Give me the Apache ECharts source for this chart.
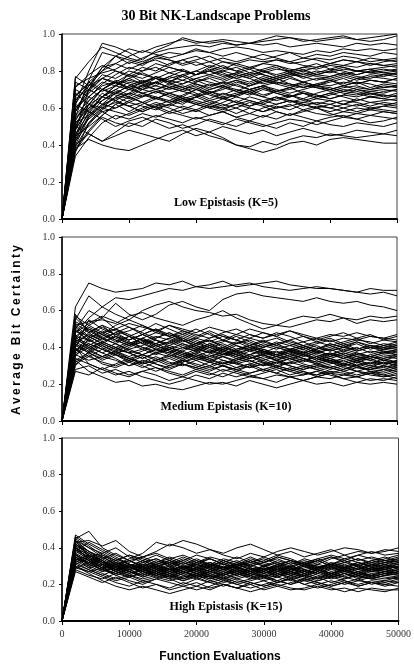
<!DOCTYPE html>
<html>
<head>
<meta charset="utf-8">
<title>30 Bit NK-Landscape Problems</title>
<script src="https://cdn.jsdelivr.net/npm/echarts@6/dist/echarts.min.js"></script>
<style>
  html, body { margin: 0; padding: 0; background: #fff; }
  #chart { width: 414px; height: 669px; }
</style>
</head>
<body>
<div id="chart"></div>
<script>
// function evaluations at which bit certainty was sampled
var evals = [0, 2000, 4000, 6000, 8000, 10000, 12000, 14000, 16000, 18000, 20000, 22000, 24000,
  26000, 28000, 30000, 32000, 34000, 36000, 38000, 40000, 42000, 44000, 46000, 48000, 50000];

// low epistasis, K=5
var lowRuns = [
  [0,.77,.72,.80,.88,.92,.90,.93,.95,.97,.95,.96,.97,.96,.95,.96,.97,.98,.97,.96,.97,.98,.97,.98,.99,1.0],
  [0,.62,.80,.95,.93,.90,.86,.91,.94,.98,.96,.95,.96,.94,.95,.97,.99,.98,.96,.97,.98,.99,.97,.96,.97,.99],
  [0,.55,.75,.90,.88,.84,.87,.90,.92,.93,.94,.93,.95,.94,.95,.94,.95,.93,.94,.95,.94,.93,.95,.94,.95,.94],
  [0,.48,.70,.82,.88,.86,.84,.88,.90,.89,.91,.90,.92,.93,.92,.90,.91,.90,.89,.91,.90,.92,.91,.92,.91,.92],
  [0,.72,.76,.79,.81,.85,.83,.87,.86,.84,.86,.88,.85,.84,.86,.85,.86,.84,.85,.87,.86,.88,.87,.85,.86,.85],
  [0,.45,.62,.70,.74,.78,.82,.80,.84,.86,.83,.85,.82,.80,.82,.84,.83,.81,.80,.82,.84,.83,.85,.84,.83,.84],
  [0,.65,.70,.78,.76,.80,.78,.76,.74,.78,.80,.83,.81,.84,.82,.80,.78,.80,.82,.81,.83,.82,.80,.81,.82,.83],
  [0,.40,.55,.62,.68,.72,.75,.73,.77,.80,.78,.82,.85,.83,.81,.84,.86,.85,.83,.82,.84,.86,.85,.83,.85,.86],
  [0,.58,.68,.74,.72,.70,.74,.77,.75,.73,.76,.78,.80,.78,.76,.79,.81,.80,.78,.80,.79,.81,.80,.79,.80,.81],
  [0,.50,.64,.70,.75,.73,.70,.72,.76,.78,.75,.72,.74,.77,.79,.78,.76,.78,.80,.78,.77,.79,.78,.80,.79,.78],
  [0,.70,.66,.72,.74,.70,.72,.74,.71,.73,.76,.74,.72,.75,.73,.76,.74,.72,.74,.76,.75,.73,.76,.75,.74,.76],
  [0,.44,.58,.66,.70,.74,.72,.70,.72,.70,.73,.71,.74,.72,.70,.72,.74,.73,.71,.73,.72,.74,.73,.75,.74,.73],
  [0,.52,.60,.64,.68,.66,.70,.68,.71,.69,.67,.70,.72,.70,.68,.71,.69,.70,.72,.71,.69,.71,.72,.70,.71,.72],
  [0,.36,.52,.60,.66,.70,.68,.65,.68,.70,.72,.69,.66,.68,.70,.67,.69,.71,.68,.66,.68,.70,.69,.67,.69,.70],
  [0,.60,.66,.62,.65,.68,.66,.69,.67,.64,.66,.68,.65,.67,.69,.66,.64,.66,.68,.67,.65,.67,.66,.68,.67,.66],
  [0,.42,.56,.62,.60,.64,.67,.65,.63,.66,.64,.62,.65,.63,.66,.64,.62,.64,.63,.65,.64,.62,.64,.66,.65,.64],
  [0,.38,.48,.56,.62,.66,.63,.60,.62,.65,.63,.61,.60,.62,.64,.62,.60,.61,.63,.62,.60,.62,.61,.63,.62,.61],
  [0,.55,.62,.58,.60,.63,.61,.59,.62,.60,.58,.61,.59,.62,.60,.58,.60,.62,.59,.61,.60,.58,.60,.59,.61,.60],
  [0,.46,.54,.60,.58,.56,.59,.62,.60,.57,.59,.56,.58,.60,.57,.55,.58,.56,.59,.57,.56,.58,.57,.59,.58,.57],
  [0,.34,.44,.52,.56,.54,.57,.55,.58,.56,.54,.56,.58,.55,.53,.56,.54,.57,.55,.53,.55,.56,.54,.56,.55,.54],
  [0,.40,.46,.42,.47,.52,.50,.54,.52,.49,.51,.54,.52,.50,.53,.51,.49,.52,.50,.53,.51,.50,.52,.51,.50,.52],
  [0,.38,.43,.40,.38,.37,.40,.43,.46,.48,.45,.47,.50,.48,.46,.48,.45,.47,.49,.47,.45,.46,.48,.47,.46,.48],
  [0,.50,.46,.42,.45,.48,.46,.44,.42,.46,.49,.47,.44,.40,.38,.36,.38,.41,.42,.40,.43,.44,.43,.42,.41,.41],
  [0,.62,.58,.54,.50,.53,.55,.52,.49,.51,.48,.45,.43,.40,.39,.42,.40,.43,.45,.44,.46,.45,.44,.45,.46,.45],
  [0,.74,.70,.66,.72,.75,.73,.70,.68,.65,.67,.64,.62,.60,.63,.61,.58,.56,.58,.60,.57,.55,.57,.56,.58,.57],
  [0,.56,.64,.70,.68,.72,.70,.74,.77,.75,.73,.70,.72,.69,.67,.70,.68,.66,.68,.65,.67,.69,.68,.66,.67,.66],
  [0,.64,.72,.76,.80,.78,.74,.76,.79,.77,.74,.76,.73,.75,.72,.74,.76,.73,.71,.73,.75,.72,.74,.73,.71,.72],
  [0,.48,.60,.68,.64,.68,.72,.76,.74,.77,.80,.78,.76,.79,.77,.80,.82,.79,.77,.79,.81,.80,.78,.80,.81,.80],
  [0,.53,.66,.73,.78,.82,.80,.84,.82,.80,.78,.80,.77,.79,.81,.78,.76,.78,.77,.75,.77,.79,.77,.76,.78,.77],
  [0,.76,.85,.93,.90,.87,.85,.88,.86,.83,.85,.82,.80,.82,.79,.81,.83,.80,.82,.84,.81,.83,.82,.84,.83,.82],
  [0,.45,.50,.56,.62,.58,.62,.65,.68,.66,.70,.73,.71,.69,.72,.75,.73,.76,.74,.72,.75,.77,.75,.77,.76,.75],
  [0,.58,.72,.82,.84,.88,.91,.89,.87,.89,.92,.90,.88,.90,.88,.86,.88,.90,.87,.89,.88,.90,.89,.88,.90,.89],
  [0,.42,.52,.58,.54,.57,.60,.63,.61,.64,.62,.60,.63,.66,.64,.62,.65,.67,.64,.66,.68,.66,.64,.66,.65,.67],
  [0,.68,.62,.66,.64,.61,.63,.60,.57,.59,.62,.60,.58,.55,.57,.60,.62,.64,.61,.63,.62,.64,.63,.61,.63,.62],
  [0,.37,.47,.55,.52,.50,.53,.56,.54,.52,.55,.53,.51,.54,.52,.50,.52,.54,.53,.51,.53,.55,.54,.52,.53,.55],
  [0,.52,.56,.64,.69,.66,.63,.66,.64,.67,.70,.67,.65,.67,.70,.72,.70,.68,.70,.72,.71,.69,.71,.70,.72,.71],
  [0,.60,.69,.76,.74,.71,.74,.72,.70,.72,.70,.68,.71,.74,.72,.75,.73,.71,.73,.71,.70,.72,.70,.69,.70,.69],
  [0,.46,.57,.66,.72,.78,.76,.79,.82,.80,.78,.80,.78,.76,.74,.77,.75,.77,.79,.77,.76,.78,.80,.79,.78,.79],
  [0,.66,.74,.70,.67,.65,.68,.66,.63,.65,.62,.64,.66,.63,.61,.64,.66,.64,.62,.60,.62,.60,.58,.60,.59,.58],
  [0,.54,.62,.60,.63,.61,.58,.61,.64,.62,.66,.69,.67,.70,.68,.66,.69,.67,.65,.68,.70,.68,.67,.69,.68,.70],
  [0,.58,.70,.76,.73,.76,.79,.76,.73,.75,.78,.81,.79,.76,.78,.75,.77,.79,.76,.78,.80,.78,.76,.78,.77,.79],
  [0,.50,.62,.70,.74,.71,.68,.70,.73,.71,.68,.65,.68,.66,.69,.71,.68,.66,.69,.67,.65,.67,.70,.68,.66,.68],
  [0,.62,.74,.80,.84,.81,.84,.86,.83,.86,.88,.85,.87,.85,.87,.89,.87,.85,.87,.86,.84,.86,.85,.87,.86,.87],
  [0,.43,.55,.61,.66,.63,.66,.69,.66,.63,.66,.63,.61,.64,.61,.63,.66,.63,.65,.62,.64,.62,.65,.63,.64,.65],
  [0,.67,.73,.69,.72,.76,.73,.77,.74,.71,.74,.77,.75,.78,.76,.73,.75,.77,.74,.72,.74,.76,.73,.75,.74,.76],
  [0,.39,.51,.59,.64,.61,.58,.61,.58,.61,.59,.62,.60,.57,.60,.58,.61,.59,.62,.60,.58,.60,.62,.60,.61,.63],
  [0,.71,.78,.83,.80,.77,.80,.82,.79,.81,.78,.80,.83,.80,.78,.80,.77,.79,.81,.78,.80,.82,.80,.81,.79,.80],
  [0,.49,.59,.66,.70,.67,.71,.74,.71,.69,.71,.68,.70,.73,.70,.72,.69,.71,.74,.72,.70,.72,.74,.71,.73,.72]
];

// medium epistasis, K=10
var mediumRuns = [
  [0,.62,.75,.72,.70,.71,.72,.75,.74,.76,.73,.72,.73,.74,.75,.73,.72,.71,.72,.73,.72,.71,.70,.72,.71,.71],
  [0,.55,.68,.62,.67,.66,.68,.70,.72,.71,.73,.74,.76,.73,.74,.75,.76,.74,.73,.72,.72,.71,.70,.69,.70,.68],
  [0,.50,.60,.56,.64,.58,.55,.58,.63,.65,.62,.60,.66,.69,.70,.68,.67,.66,.65,.67,.65,.64,.65,.63,.62,.60],
  [0,.48,.56,.62,.58,.55,.60,.63,.65,.62,.60,.59,.57,.58,.55,.53,.52,.55,.57,.56,.58,.56,.55,.57,.56,.57],
  [0,.52,.54,.55,.53,.57,.59,.56,.54,.52,.55,.57,.60,.56,.53,.50,.52,.51,.53,.55,.54,.56,.53,.55,.54,.55],
  [0,.45,.52,.48,.50,.53,.51,.49,.52,.50,.48,.51,.49,.47,.50,.48,.46,.49,.47,.45,.47,.46,.48,.46,.45,.47],
  [0,.40,.55,.50,.47,.49,.52,.48,.46,.49,.47,.45,.48,.50,.47,.45,.47,.49,.46,.44,.46,.48,.45,.47,.44,.46],
  [0,.58,.48,.52,.46,.44,.47,.50,.46,.43,.45,.48,.44,.42,.45,.43,.41,.44,.46,.43,.41,.43,.45,.42,.44,.43],
  [0,.50,.43,.46,.50,.47,.44,.42,.45,.47,.44,.41,.43,.46,.43,.40,.42,.44,.41,.39,.42,.40,.43,.41,.40,.42],
  [0,.35,.45,.48,.44,.41,.43,.46,.44,.41,.39,.42,.44,.41,.38,.40,.43,.41,.39,.41,.38,.40,.42,.39,.41,.40],
  [0,.47,.40,.43,.46,.42,.39,.42,.45,.42,.40,.37,.40,.43,.40,.38,.36,.39,.41,.38,.36,.38,.40,.37,.39,.38],
  [0,.44,.50,.45,.42,.39,.41,.44,.40,.38,.41,.39,.36,.38,.41,.38,.36,.38,.35,.37,.39,.36,.34,.36,.38,.36],
  [0,.38,.42,.39,.36,.40,.43,.39,.37,.40,.38,.35,.37,.34,.36,.39,.36,.34,.36,.33,.35,.37,.35,.33,.35,.34],
  [0,.42,.37,.41,.38,.35,.38,.41,.38,.35,.37,.34,.36,.38,.35,.33,.35,.37,.34,.32,.34,.36,.33,.31,.33,.32],
  [0,.30,.38,.42,.39,.37,.34,.37,.35,.38,.35,.33,.35,.32,.34,.36,.33,.31,.33,.35,.32,.30,.32,.34,.31,.33],
  [0,.46,.44,.40,.36,.34,.36,.33,.35,.32,.34,.36,.33,.31,.33,.30,.32,.34,.31,.29,.31,.33,.30,.28,.30,.29],
  [0,.36,.33,.35,.38,.34,.31,.33,.30,.32,.35,.32,.30,.32,.29,.31,.33,.30,.28,.30,.32,.29,.27,.29,.28,.30],
  [0,.32,.36,.31,.29,.32,.35,.31,.29,.31,.28,.30,.27,.29,.31,.28,.26,.29,.27,.25,.28,.30,.27,.26,.28,.27],
  [0,.28,.30,.26,.28,.25,.27,.29,.26,.24,.27,.25,.28,.26,.24,.26,.28,.25,.27,.24,.26,.25,.27,.25,.24,.26],
  [0,.33,.27,.24,.21,.22,.19,.20,.18,.17,.19,.21,.20,.22,.24,.23,.25,.24,.22,.24,.23,.25,.24,.22,.23,.22],
  [0,.40,.31,.28,.25,.27,.24,.22,.20,.22,.25,.23,.26,.24,.26,.28,.26,.24,.25,.27,.25,.23,.24,.26,.24,.25],
  [0,.54,.50,.47,.52,.55,.52,.49,.46,.48,.45,.43,.46,.44,.42,.40,.42,.39,.37,.39,.41,.38,.36,.38,.37,.36],
  [0,.49,.46,.51,.47,.44,.47,.44,.41,.39,.42,.44,.41,.38,.36,.38,.35,.37,.39,.36,.34,.32,.34,.33,.31,.32],
  [0,.43,.47,.44,.48,.51,.48,.45,.48,.45,.42,.45,.47,.44,.41,.43,.45,.42,.40,.42,.44,.41,.43,.40,.42,.41],
  [0,.37,.41,.45,.42,.46,.44,.41,.43,.40,.38,.41,.39,.42,.44,.41,.39,.41,.43,.40,.38,.40,.39,.41,.40,.39],
  [0,.51,.45,.49,.45,.42,.45,.48,.52,.49,.46,.49,.46,.44,.47,.45,.48,.46,.43,.45,.43,.45,.44,.46,.45,.44],
  [0,.46,.39,.35,.38,.41,.45,.42,.39,.36,.33,.35,.38,.35,.33,.30,.32,.30,.28,.30,.29,.27,.29,.28,.30,.28],
  [0,.39,.35,.32,.30,.33,.30,.27,.30,.33,.36,.33,.31,.34,.32,.35,.33,.36,.34,.32,.34,.31,.33,.35,.33,.31],
  [0,.57,.52,.56,.50,.46,.42,.45,.48,.44,.40,.37,.39,.36,.34,.36,.38,.35,.33,.31,.33,.30,.32,.30,.29,.31],
  [0,.41,.48,.52,.49,.46,.49,.53,.50,.47,.50,.47,.44,.47,.45,.48,.46,.43,.41,.43,.45,.42,.44,.43,.41,.43],
  [0,.34,.31,.28,.31,.34,.31,.33,.36,.33,.30,.28,.30,.27,.30,.32,.29,.27,.29,.31,.29,.31,.29,.28,.27,.29],
  [0,.44,.41,.37,.34,.30,.32,.29,.27,.25,.28,.26,.24,.27,.25,.23,.21,.24,.22,.24,.26,.23,.21,.23,.22,.24],
  [0,.53,.48,.43,.40,.37,.39,.36,.39,.42,.39,.37,.35,.37,.34,.36,.33,.35,.37,.34,.32,.34,.32,.30,.32,.30],
  [0,.38,.44,.41,.37,.39,.36,.34,.31,.33,.31,.29,.32,.29,.31,.33,.30,.28,.30,.28,.26,.28,.30,.27,.25,.27],
  [0,.48,.53,.57,.54,.51,.47,.50,.47,.44,.41,.44,.40,.38,.40,.38,.36,.38,.40,.37,.35,.37,.35,.34,.36,.35],
  [0,.31,.35,.39,.36,.33,.36,.39,.37,.34,.37,.40,.37,.35,.38,.36,.34,.36,.38,.35,.37,.34,.36,.35,.37,.38],
  [0,.42,.38,.35,.33,.30,.33,.31,.28,.31,.29,.32,.30,.28,.26,.28,.30,.28,.26,.25,.27,.26,.24,.26,.25,.23],
  [0,.36,.40,.37,.40,.43,.40,.38,.40,.37,.35,.38,.36,.39,.41,.39,.37,.39,.37,.39,.42,.40,.38,.40,.39,.41],
  [0,.27,.25,.29,.26,.24,.27,.25,.22,.24,.22,.20,.21,.19,.22,.20,.18,.20,.22,.20,.21,.19,.21,.20,.21,.20],
  [0,.45,.42,.39,.42,.38,.36,.39,.36,.34,.36,.34,.31,.33,.35,.32,.30,.32,.34,.31,.33,.31,.30,.32,.30,.33],
  [0,.46,.51,.47,.44,.41,.44,.40,.43,.46,.43,.40,.38,.41,.39,.37,.40,.38,.36,.38,.36,.39,.37,.35,.37,.39],
  [0,.52,.46,.42,.39,.42,.45,.41,.38,.35,.38,.41,.38,.36,.39,.37,.35,.33,.36,.34,.37,.35,.33,.35,.34,.36],
  [0,.43,.39,.43,.40,.37,.34,.37,.40,.37,.34,.32,.35,.33,.36,.34,.31,.34,.32,.35,.33,.31,.33,.31,.34,.32],
  [0,.38,.46,.42,.46,.43,.40,.37,.39,.36,.39,.42,.39,.36,.34,.37,.35,.38,.36,.33,.36,.34,.37,.35,.33,.35],
  [0,.49,.44,.47,.43,.46,.42,.39,.41,.44,.41,.38,.40,.37,.39,.42,.40,.38,.40,.37,.39,.41,.38,.40,.38,.37],
  [0,.33,.37,.34,.37,.34,.32,.35,.32,.30,.33,.30,.33,.31,.29,.31,.29,.32,.30,.28,.30,.28,.31,.29,.32,.30],
  [0,.56,.49,.45,.48,.44,.47,.44,.42,.45,.42,.40,.42,.39,.41,.44,.41,.39,.41,.38,.40,.42,.39,.41,.39,.40],
  [0,.41,.37,.33,.36,.32,.29,.32,.34,.31,.29,.27,.30,.28,.30,.27,.29,.27,.25,.27,.29,.27,.25,.27,.26,.28]
];

// high epistasis, K=15
var highRuns = [
  [0,.47,.42,.38,.34,.31,.29,.31,.28,.30,.27,.29,.31,.28,.26,.28,.30,.27,.29,.31,.29,.27,.29,.31,.30,.32],
  [0,.45,.49,.40,.36,.33,.35,.32,.34,.31,.33,.30,.32,.35,.32,.30,.33,.31,.34,.32,.35,.33,.36,.34,.33,.35],
  [0,.43,.44,.41,.44,.38,.35,.37,.34,.36,.33,.31,.34,.32,.30,.32,.35,.33,.31,.33,.30,.32,.34,.31,.33,.32],
  [0,.42,.38,.35,.31,.34,.37,.43,.41,.44,.42,.39,.37,.40,.42,.39,.36,.38,.35,.37,.39,.36,.38,.37,.39,.38],
  [0,.40,.36,.32,.29,.32,.35,.38,.42,.40,.37,.39,.36,.34,.37,.35,.38,.40,.38,.36,.38,.40,.39,.37,.38,.40],
  [0,.38,.34,.30,.33,.36,.33,.30,.32,.29,.31,.34,.31,.29,.27,.30,.32,.29,.27,.29,.31,.28,.30,.28,.29,.30],
  [0,.36,.31,.28,.26,.29,.27,.30,.28,.26,.29,.27,.25,.28,.26,.24,.27,.29,.26,.28,.26,.24,.27,.25,.27,.26],
  [0,.34,.30,.27,.29,.26,.28,.25,.27,.29,.26,.24,.26,.23,.25,.27,.24,.26,.28,.25,.23,.25,.27,.24,.26,.25],
  [0,.33,.29,.31,.27,.24,.26,.29,.26,.24,.26,.28,.25,.27,.29,.26,.28,.25,.23,.26,.24,.26,.23,.25,.24,.23],
  [0,.31,.28,.25,.22,.24,.21,.23,.25,.22,.24,.21,.23,.20,.22,.24,.21,.23,.20,.22,.24,.22,.20,.22,.21,.23],
  [0,.29,.27,.24,.21,.19,.22,.20,.18,.21,.19,.22,.20,.18,.21,.19,.21,.23,.20,.18,.20,.22,.19,.21,.20,.19],
  [0,.30,.26,.22,.19,.17,.19,.17,.15,.17,.19,.17,.20,.18,.16,.18,.20,.18,.17,.19,.17,.18,.16,.18,.17,.17],
  [0,.37,.33,.36,.32,.29,.32,.34,.31,.33,.30,.32,.29,.31,.33,.30,.28,.30,.32,.29,.31,.33,.30,.32,.31,.29],
  [0,.44,.40,.37,.40,.35,.32,.34,.31,.28,.30,.27,.29,.26,.28,.25,.27,.29,.26,.24,.26,.28,.25,.27,.26,.28],
  [0,.39,.35,.31,.27,.30,.27,.24,.26,.23,.25,.22,.24,.21,.23,.25,.22,.20,.22,.24,.21,.23,.25,.23,.22,.24],
  [0,.35,.31,.28,.31,.27,.30,.33,.30,.27,.25,.27,.30,.27,.29,.26,.28,.30,.27,.29,.31,.29,.27,.29,.28,.30],
  [0,.41,.37,.33,.30,.33,.30,.27,.29,.26,.28,.31,.28,.25,.27,.30,.27,.25,.27,.29,.26,.28,.30,.27,.29,.27],
  [0,.32,.28,.25,.28,.31,.28,.26,.29,.32,.29,.26,.28,.31,.28,.26,.29,.27,.30,.28,.26,.28,.26,.29,.27,.28],
  [0,.46,.41,.36,.33,.30,.27,.29,.32,.29,.32,.35,.33,.30,.33,.31,.29,.32,.30,.33,.35,.32,.34,.32,.34,.36],
  [0,.28,.25,.23,.26,.24,.27,.25,.23,.20,.23,.21,.19,.22,.20,.22,.19,.21,.23,.21,.19,.21,.23,.20,.22,.21],
  [0,.34,.32,.29,.25,.22,.20,.23,.21,.19,.17,.19,.22,.20,.18,.20,.22,.20,.23,.21,.19,.21,.19,.21,.20,.22],
  [0,.40,.34,.29,.26,.28,.25,.28,.26,.29,.27,.30,.28,.31,.29,.27,.30,.28,.31,.29,.32,.30,.28,.31,.29,.31],
  [0,.38,.43,.39,.35,.31,.28,.30,.27,.25,.27,.24,.26,.28,.25,.23,.25,.27,.25,.27,.24,.26,.24,.23,.25,.24],
  [0,.36,.32,.35,.31,.33,.30,.32,.35,.32,.29,.31,.28,.30,.32,.35,.32,.30,.32,.34,.31,.29,.31,.33,.32,.34],
  [0,.27,.24,.21,.24,.21,.18,.20,.17,.19,.21,.18,.20,.18,.20,.17,.19,.17,.18,.20,.18,.16,.18,.17,.16,.18],
  [0,.42,.36,.31,.28,.26,.29,.26,.24,.27,.24,.26,.23,.25,.27,.24,.26,.23,.25,.23,.26,.24,.22,.24,.26,.25],
  [0,.31,.34,.30,.27,.30,.33,.36,.33,.31,.34,.31,.29,.32,.35,.32,.30,.33,.31,.29,.31,.34,.32,.30,.32,.31],
  [0,.44,.38,.33,.29,.27,.24,.26,.23,.26,.28,.25,.23,.26,.24,.22,.24,.27,.24,.22,.24,.26,.24,.26,.25,.27],
  [0,.33,.36,.32,.30,.27,.25,.27,.30,.27,.25,.23,.25,.27,.24,.26,.29,.26,.24,.27,.25,.28,.26,.28,.27,.26],
  [0,.30,.27,.29,.32,.29,.31,.28,.30,.33,.36,.34,.31,.33,.30,.32,.34,.31,.33,.31,.34,.36,.33,.35,.33,.34],
  [0,.39,.35,.37,.33,.36,.34,.31,.33,.30,.28,.30,.33,.31,.34,.32,.35,.33,.31,.34,.36,.34,.36,.38,.36,.37],
  [0,.35,.29,.26,.23,.25,.22,.24,.22,.24,.26,.24,.21,.23,.21,.19,.21,.24,.22,.20,.22,.20,.22,.21,.19,.21],
  [0,.41,.33,.27,.30,.28,.31,.29,.26,.28,.31,.29,.27,.25,.28,.30,.28,.26,.28,.30,.27,.29,.31,.28,.30,.29],
  [0,.37,.30,.33,.28,.25,.28,.31,.28,.30,.28,.25,.27,.30,.27,.29,.26,.28,.31,.28,.30,.27,.29,.27,.30,.31],
  [0,.43,.38,.34,.30,.27,.25,.28,.31,.34,.31,.28,.30,.27,.25,.28,.25,.27,.25,.28,.26,.29,.27,.29,.31,.28],
  [0,.32,.35,.31,.34,.31,.28,.26,.24,.27,.29,.32,.29,.26,.29,.27,.31,.29,.32,.30,.28,.30,.32,.29,.31,.33],
  [0,.39,.33,.29,.32,.30,.26,.28,.25,.23,.26,.23,.26,.29,.27,.24,.22,.25,.28,.26,.29,.27,.25,.28,.26,.27],
  [0,.45,.40,.35,.31,.29,.32,.29,.27,.30,.32,.30,.33,.30,.32,.34,.31,.33,.30,.28,.31,.29,.32,.30,.32,.33],
  [0,.35,.31,.34,.37,.33,.29,.31,.33,.29,.31,.29,.26,.29,.31,.28,.31,.28,.26,.28,.25,.27,.29,.27,.28,.26],
  [0,.40,.36,.33,.28,.31,.29,.26,.29,.27,.24,.27,.25,.28,.30,.28,.25,.28,.30,.27,.30,.28,.26,.25,.27,.29],
  [0,.29,.32,.28,.25,.27,.24,.27,.24,.22,.25,.27,.24,.26,.23,.25,.24,.22,.25,.23,.25,.23,.26,.24,.23,.24],
  [0,.44,.35,.31,.28,.30,.33,.30,.32,.35,.32,.34,.31,.29,.31,.33,.36,.34,.31,.33,.30,.32,.30,.33,.35,.32],
  [0,.36,.33,.29,.31,.28,.30,.27,.25,.28,.26,.28,.32,.29,.27,.29,.27,.30,.28,.26,.29,.31,.28,.30,.28,.30],
  [0,.42,.37,.32,.27,.25,.23,.25,.28,.25,.23,.25,.22,.24,.26,.29,.26,.24,.26,.28,.25,.27,.25,.23,.25,.26]
];

var panelNames = ["Low Epistasis (K=5)", "Medium Epistasis (K=10)", "High Epistasis (K=15)"];

var serif = "'Liberation Serif', 'Times New Roman', serif";
var sans = "'Liberation Sans', Arial, sans-serif";

var gridBoxes = [
  { left: 62, top: 34, width: 335, height: 185 },
  { left: 62, top: 237, width: 335, height: 184 },
  { left: 62, top: 438, width: 337, height: 183 }
];

function makeSeries(runs, idx) {
  return runs.map(function (run) {
    return {
      type: "line",
      xAxisIndex: idx,
      yAxisIndex: idx,
      symbol: "none",
      silent: true,
      lineStyle: { color: "#000", width: 1 },
      data: run.map(function (v, i) {
        return [evals[i], v];
      })
    };
  });
}

var grid = [], xAxis = [], yAxis = [];
gridBoxes.forEach(function (b, i) {
  grid.push({
    left: b.left, top: b.top, width: b.width, height: b.height,
    show: true, borderColor: "#444", borderWidth: 1, backgroundColor: "#fff"
  });
  xAxis.push({
    type: "value", gridIndex: i, min: 0, max: 50000, interval: 10000,
    axisLine: { onZero: false, lineStyle: { color: "#000", width: 2 } },
    axisTick: { show: true, inside: false, length: 4, lineStyle: { color: "#000" } },
    axisLabel: {
      show: i === 2, color: "#333", fontFamily: serif, fontSize: 10, margin: 8,
      formatter: function (v) { return String(v); }
    },
    splitLine: { show: false }
  });
  yAxis.push({
    type: "value", gridIndex: i, min: 0, max: 1, interval: 0.2,
    axisLine: { show: true, lineStyle: { color: "#000", width: 1.5 } },
    axisTick: { show: true, inside: false, length: 3, lineStyle: { color: "#000" } },
    axisLabel: {
      color: "#333", fontFamily: serif, fontSize: 10, margin: 7,
      formatter: function (v) { return v.toFixed(1); }
    },
    splitLine: { show: false }
  });
});

var series = []
  .concat(makeSeries(lowRuns, 0))
  .concat(makeSeries(mediumRuns, 1))
  .concat(makeSeries(highRuns, 2));

var labelY = [203, 407, 607];
var graphic = panelNames.map(function (name, i) {
  return {
    type: "text", x: 226, y: labelY[i], z: 100,
    style: {
      text: name, font: "bold 12px " + serif, fill: "#000",
      align: "center", verticalAlign: "middle"
    }
  };
});
graphic.push({
  type: "text", x: 216, y: 16,
  style: {
    text: "30 Bit NK-Landscape Problems", font: "bold 14px " + serif, fill: "#000",
    align: "center", verticalAlign: "middle"
  }
});
graphic.push({
  type: "text", x: 220, y: 657,
  style: {
    text: "Function Evaluations", font: "bold 12px " + sans, fill: "#000",
    align: "center", verticalAlign: "middle"
  }
});
// y title is letter-spaced in the original, thin spaces fake it
graphic.push({
  type: "text", x: 17, y: 330, rotation: Math.PI / 2,
  style: {
    text: "Average Bit Certainty".split("").join("\u2009"),
    font: "bold 12px " + sans, fill: "#000",
    align: "center", verticalAlign: "middle"
  }
});

var myChart = echarts.init(document.getElementById("chart"));
myChart.setOption({
  animation: false,
  backgroundColor: "#fff",
  grid: grid,
  xAxis: xAxis,
  yAxis: yAxis,
  series: series,
  graphic: graphic
});
</script>
</body>
</html>
